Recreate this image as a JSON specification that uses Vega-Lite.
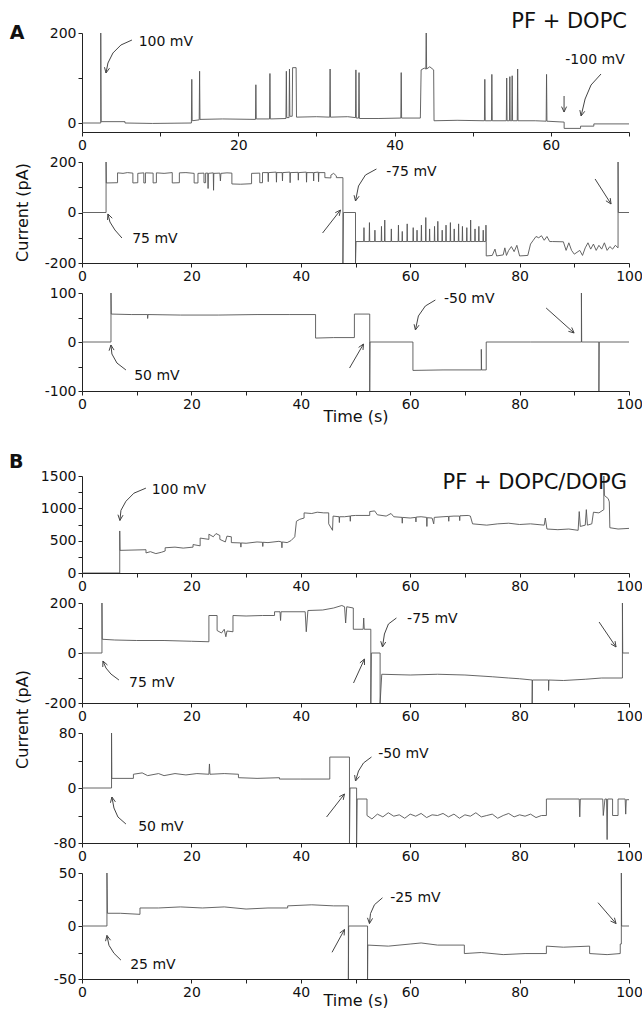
{
"$schema": "https://vega.github.io/schema/vega-lite/v6.json",
"padding": {"left": 8, "top": 11, "right": 0, "bottom": 0},
"background": "white",
"config": {
 "view": {"stroke": null},
 "axis": {"grid": false, "domainColor": "#222", "tickColor": "#222", "tickSize": 4, "labelFont": "DejaVu Sans", "labelFontSize": 14, "labelColor": "#111", "labelPadding": 2, "labelFlush": false, "labelOverlap": false, "titleFont": "DejaVu Sans", "titleFontSize": 16, "titleFontWeight": "normal", "titleColor": "#111"},
 "text": {"font": "DejaVu Sans", "fontSize": 14, "color": "#111"}
},
"datasets": {
"trace": [
{"p":1,"t":0,"v":0},{"p":1,"t":2.4,"v":0},{"p":1,"t":2.4,"v":200},{"p":1,"t":2.45,"v":3},{"p":1,"t":5.5,"v":3},{"p":1,"t":5.5,"v":0},{"p":1,"t":9,"v":-1},{"p":1,"t":14.0,"v":0},{"p":1,"t":14.05,"v":97},{"p":1,"t":14.1,"v":5},{"p":1,"t":15.0,"v":7},{"p":1,"t":15.05,"v":115},{"p":1,"t":15.1,"v":8},{"p":1,"t":18,"v":9},{"p":1,"t":22.2,"v":8},{"p":1,"t":22.25,"v":85},{"p":1,"t":22.3,"v":9},{"p":1,"t":24.0,"v":9},{"p":1,"t":24.05,"v":110},{"p":1,"t":24.1,"v":9},{"p":1,"t":26.1,"v":10},{"p":1,"t":26.15,"v":115},{"p":1,"t":26.2,"v":12},{"p":1,"t":26.5,"v":12},{"p":1,"t":26.55,"v":120},{"p":1,"t":26.6,"v":15},{"p":1,"t":26.9,"v":15},{"p":1,"t":26.95,"v":123},{"p":1,"t":27.4,"v":123},{"p":1,"t":27.45,"v":13},{"p":1,"t":30,"v":14},{"p":1,"t":31.7,"v":13},{"p":1,"t":31.75,"v":120},{"p":1,"t":31.8,"v":13},{"p":1,"t":34,"v":14},{"p":1,"t":35.0,"v":12},{"p":1,"t":35.05,"v":118},{"p":1,"t":35.1,"v":11},{"p":1,"t":35.4,"v":11},{"p":1,"t":35.45,"v":112},{"p":1,"t":35.5,"v":10},{"p":1,"t":38,"v":10},{"p":1,"t":40.8,"v":11},{"p":1,"t":40.85,"v":112},{"p":1,"t":40.9,"v":11},{"p":1,"t":43.3,"v":11},{"p":1,"t":43.4,"v":118},{"p":1,"t":43.8,"v":122},{"p":1,"t":44.0,"v":120},{"p":1,"t":44.05,"v":200},{"p":1,"t":44.1,"v":120},{"p":1,"t":44.5,"v":125},{"p":1,"t":45.0,"v":118},{"p":1,"t":45.05,"v":5},{"p":1,"t":48,"v":6},{"p":1,"t":51.5,"v":5},{"p":1,"t":51.55,"v":97},{"p":1,"t":51.6,"v":5},{"p":1,"t":52.4,"v":5},{"p":1,"t":52.45,"v":108},{"p":1,"t":52.5,"v":5},{"p":1,"t":54.3,"v":5},{"p":1,"t":54.35,"v":100},{"p":1,"t":54.4,"v":5},{"p":1,"t":54.7,"v":5},{"p":1,"t":54.75,"v":103},{"p":1,"t":54.8,"v":5},{"p":1,"t":55.0,"v":5},{"p":1,"t":55.05,"v":105},{"p":1,"t":55.1,"v":5},{"p":1,"t":55.7,"v":5},{"p":1,"t":55.75,"v":120},{"p":1,"t":55.8,"v":5},{"p":1,"t":58,"v":5},{"p":1,"t":59.4,"v":4},{"p":1,"t":59.45,"v":108},{"p":1,"t":59.5,"v":4},{"p":1,"t":61.7,"v":2},{"p":1,"t":61.7,"v":-12},{"p":1,"t":63.8,"v":-12},{"p":1,"t":63.8,"v":-7},{"p":1,"t":65.5,"v":-7},{"p":1,"t":65.5,"v":-2},{"p":1,"t":70,"v":-2},

{"p":2,"t":0,"v":0},{"p":2,"t":4.4,"v":0},{"p":2,"t":4.4,"v":200},{"p":2,"t":4.45,"v":117},{"p":2,"t":6.5,"v":118},{"p":2,"t":6.5,"v":157},{"p":2,"t":7.5,"v":155},{"p":2,"t":8.3,"v":158},{"p":2,"t":9.3,"v":156},{"p":2,"t":9.3,"v":117},{"p":2,"t":10.2,"v":118},{"p":2,"t":10.2,"v":155},{"p":2,"t":11.3,"v":157},{"p":2,"t":11.3,"v":117},{"p":2,"t":11.6,"v":117},{"p":2,"t":11.6,"v":157},{"p":2,"t":13.0,"v":156},{"p":2,"t":13.0,"v":117},{"p":2,"t":13.6,"v":118},{"p":2,"t":13.6,"v":157},{"p":2,"t":15,"v":155},{"p":2,"t":16.5,"v":158},{"p":2,"t":16.5,"v":117},{"p":2,"t":17.8,"v":118},{"p":2,"t":17.8,"v":157},{"p":2,"t":19,"v":158},{"p":2,"t":20.5,"v":155},{"p":2,"t":20.5,"v":117},{"p":2,"t":21.2,"v":117},{"p":2,"t":21.2,"v":155},{"p":2,"t":22.3,"v":156},{"p":2,"t":22.3,"v":118},{"p":2,"t":22.6,"v":118},{"p":2,"t":22.6,"v":156},{"p":2,"t":23.0,"v":156},{"p":2,"t":23.05,"v":95},{"p":2,"t":23.1,"v":155},{"p":2,"t":24.0,"v":157},{"p":2,"t":24.05,"v":88},{"p":2,"t":24.1,"v":155},{"p":2,"t":25.2,"v":156},{"p":2,"t":25.3,"v":125},{"p":2,"t":25.4,"v":155},{"p":2,"t":26.5,"v":157},{"p":2,"t":27.4,"v":156},{"p":2,"t":27.4,"v":113},{"p":2,"t":29,"v":112},{"p":2,"t":31.0,"v":114},{"p":2,"t":31.0,"v":155},{"p":2,"t":32.5,"v":156},{"p":2,"t":32.5,"v":118},{"p":2,"t":33.0,"v":118},{"p":2,"t":33.0,"v":158},{"p":2,"t":34,"v":158},{"p":2,"t":34.05,"v":122},{"p":2,"t":34.1,"v":158},{"p":2,"t":35.5,"v":160},{"p":2,"t":35.55,"v":120},{"p":2,"t":35.6,"v":158},{"p":2,"t":36.6,"v":158},{"p":2,"t":36.65,"v":125},{"p":2,"t":36.7,"v":158},{"p":2,"t":38,"v":160},{"p":2,"t":38.05,"v":118},{"p":2,"t":38.1,"v":158},{"p":2,"t":39.5,"v":159},{"p":2,"t":39.55,"v":128},{"p":2,"t":39.6,"v":158},{"p":2,"t":41,"v":160},{"p":2,"t":41.05,"v":120},{"p":2,"t":41.1,"v":158},{"p":2,"t":42.3,"v":158},{"p":2,"t":42.35,"v":125},{"p":2,"t":42.4,"v":158},{"p":2,"t":43.2,"v":160},{"p":2,"t":43.25,"v":122},{"p":2,"t":43.3,"v":158},{"p":2,"t":44.4,"v":158},{"p":2,"t":44.4,"v":138},{"p":2,"t":45.5,"v":137},{"p":2,"t":45.5,"v":148},{"p":2,"t":46,"v":155},{"p":2,"t":46.5,"v":145},{"p":2,"t":46.5,"v":138},{"p":2,"t":47.7,"v":138},{"p":2,"t":47.7,"v":-200},{"p":2,"t":47.8,"v":0},{"p":2,"t":50.0,"v":0},{"p":2,"t":50.0,"v":-200},{"p":2,"t":50.1,"v":-115},
{"p":2,"t":51.5,"v":-115},{"p":2,"t":51.55,"v":-60},{"p":2,"t":51.6,"v":-115},{"p":2,"t":52.5,"v":-115},{"p":2,"t":52.55,"v":-40},{"p":2,"t":52.6,"v":-115},{"p":2,"t":53.5,"v":-115},{"p":2,"t":53.55,"v":-70},{"p":2,"t":53.6,"v":-115},{"p":2,"t":54.7,"v":-115},{"p":2,"t":54.75,"v":-55},{"p":2,"t":54.8,"v":-115},{"p":2,"t":55.3,"v":-115},{"p":2,"t":55.35,"v":-30},{"p":2,"t":55.4,"v":-115},{"p":2,"t":56.5,"v":-115},{"p":2,"t":56.55,"v":-65},{"p":2,"t":56.6,"v":-115},{"p":2,"t":57.8,"v":-115},{"p":2,"t":57.85,"v":-50},{"p":2,"t":57.9,"v":-115},{"p":2,"t":58.5,"v":-115},{"p":2,"t":58.55,"v":-75},{"p":2,"t":58.6,"v":-115},{"p":2,"t":59.4,"v":-115},{"p":2,"t":59.45,"v":-45},{"p":2,"t":59.5,"v":-115},{"p":2,"t":60.5,"v":-115},{"p":2,"t":60.55,"v":-60},{"p":2,"t":60.6,"v":-115},{"p":2,"t":61.2,"v":-115},{"p":2,"t":61.25,"v":-70},{"p":2,"t":61.3,"v":-115},{"p":2,"t":62,"v":-115},{"p":2,"t":62.05,"v":-50},{"p":2,"t":62.1,"v":-115},{"p":2,"t":62.8,"v":-115},{"p":2,"t":62.85,"v":-20},{"p":2,"t":62.9,"v":-115},{"p":2,"t":63.5,"v":-115},{"p":2,"t":63.55,"v":-65},{"p":2,"t":63.6,"v":-115},{"p":2,"t":64.4,"v":-115},{"p":2,"t":64.45,"v":-55},{"p":2,"t":64.5,"v":-115},{"p":2,"t":65,"v":-115},{"p":2,"t":65.05,"v":-35},{"p":2,"t":65.1,"v":-115},{"p":2,"t":65.8,"v":-115},{"p":2,"t":65.85,"v":-70},{"p":2,"t":65.9,"v":-115},{"p":2,"t":66.5,"v":-115},{"p":2,"t":66.55,"v":-50},{"p":2,"t":66.6,"v":-115},{"p":2,"t":67.3,"v":-115},{"p":2,"t":67.35,"v":-40},{"p":2,"t":67.4,"v":-115},{"p":2,"t":68,"v":-115},{"p":2,"t":68.05,"v":-65},{"p":2,"t":68.1,"v":-115},{"p":2,"t":68.8,"v":-115},{"p":2,"t":68.85,"v":-45},{"p":2,"t":68.9,"v":-115},{"p":2,"t":69.5,"v":-115},{"p":2,"t":69.55,"v":-55},{"p":2,"t":69.6,"v":-115},{"p":2,"t":70.3,"v":-115},{"p":2,"t":70.35,"v":-60},{"p":2,"t":70.4,"v":-115},{"p":2,"t":71,"v":-115},{"p":2,"t":71.05,"v":-30},{"p":2,"t":71.1,"v":-115},{"p":2,"t":71.8,"v":-115},{"p":2,"t":71.85,"v":-65},{"p":2,"t":71.9,"v":-115},{"p":2,"t":72.5,"v":-115},{"p":2,"t":72.55,"v":-55},{"p":2,"t":72.6,"v":-115},{"p":2,"t":73.3,"v":-115},{"p":2,"t":73.35,"v":-70},{"p":2,"t":73.4,"v":-115},{"p":2,"t":73.8,"v":-115},{"p":2,"t":73.85,"v":-50},{"p":2,"t":73.9,"v":-115},
{"p":2,"t":73.9,"v":-172},{"p":2,"t":75,"v":-170},{"p":2,"t":75.5,"v":-145},{"p":2,"t":75.8,"v":-172},{"p":2,"t":77,"v":-168},{"p":2,"t":77.3,"v":-140},{"p":2,"t":77.6,"v":-170},{"p":2,"t":78,"v":-150},{"p":2,"t":78.5,"v":-135},{"p":2,"t":79,"v":-155},{"p":2,"t":79.5,"v":-130},{"p":2,"t":80,"v":-172},{"p":2,"t":81.5,"v":-170},{"p":2,"t":82,"v":-125},{"p":2,"t":82.5,"v":-110},{"p":2,"t":83,"v":-95},{"p":2,"t":83.5,"v":-100},{"p":2,"t":84,"v":-92},{"p":2,"t":84.5,"v":-110},{"p":2,"t":85,"v":-95},{"p":2,"t":85.5,"v":-115},{"p":2,"t":86,"v":-115},{"p":2,"t":88,"v":-116},{"p":2,"t":88.5,"v":-150},{"p":2,"t":89,"v":-120},{"p":2,"t":89.5,"v":-150},{"p":2,"t":90,"v":-165},{"p":2,"t":91,"v":-150},{"p":2,"t":91.5,"v":-170},{"p":2,"t":92,"v":-140},{"p":2,"t":92.5,"v":-120},{"p":2,"t":93,"v":-145},{"p":2,"t":93.5,"v":-125},{"p":2,"t":94,"v":-150},{"p":2,"t":94.5,"v":-130},{"p":2,"t":95,"v":-145},{"p":2,"t":95.5,"v":-120},{"p":2,"t":96,"v":-150},{"p":2,"t":96.5,"v":-135},{"p":2,"t":97,"v":-145},{"p":2,"t":97.5,"v":-130},{"p":2,"t":98,"v":-140},{"p":2,"t":98,"v":200},{"p":2,"t":98.05,"v":0},{"p":2,"t":100,"v":0},

{"p":3,"t":0,"v":0},{"p":3,"t":5.3,"v":0},{"p":3,"t":5.3,"v":100},{"p":3,"t":5.35,"v":57},{"p":3,"t":9,"v":56},{"p":3,"t":12,"v":56},{"p":3,"t":12,"v":48},{"p":3,"t":12.05,"v":56},{"p":3,"t":18,"v":55},{"p":3,"t":25,"v":55},{"p":3,"t":32,"v":56},{"p":3,"t":38,"v":56},{"p":3,"t":42.7,"v":56},{"p":3,"t":42.7,"v":8},{"p":3,"t":46,"v":9},{"p":3,"t":49.8,"v":9},{"p":3,"t":49.8,"v":57},{"p":3,"t":52.6,"v":57},{"p":3,"t":52.6,"v":-100},{"p":3,"t":52.65,"v":0},{"p":3,"t":60.5,"v":0},{"p":3,"t":60.5,"v":-58},{"p":3,"t":66,"v":-57},{"p":3,"t":73,"v":-57},{"p":3,"t":73,"v":-15},{"p":3,"t":73.05,"v":-57},{"p":3,"t":73.9,"v":-57},{"p":3,"t":73.9,"v":0},{"p":3,"t":82,"v":0},{"p":3,"t":91.3,"v":0},{"p":3,"t":91.3,"v":100},{"p":3,"t":91.35,"v":0},{"p":3,"t":94.5,"v":0},{"p":3,"t":94.5,"v":-100},{"p":3,"t":94.55,"v":0},{"p":3,"t":100,"v":0},

{"p":4,"t":0,"v":0},{"p":4,"t":6.9,"v":0},{"p":4,"t":6.9,"v":650},{"p":4,"t":6.95,"v":350},{"p":4,"t":11.7,"v":360},{"p":4,"t":11.7,"v":310},{"p":4,"t":12.5,"v":330},{"p":4,"t":13.5,"v":300},{"p":4,"t":14.5,"v":320},{"p":4,"t":15.2,"v":340},{"p":4,"t":15.2,"v":390},{"p":4,"t":17,"v":400},{"p":4,"t":18.5,"v":385},{"p":4,"t":20.3,"v":400},{"p":4,"t":20.3,"v":440},{"p":4,"t":21.6,"v":420},{"p":4,"t":21.6,"v":540},{"p":4,"t":23.2,"v":520},{"p":4,"t":23.2,"v":600},{"p":4,"t":24.0,"v":560},{"p":4,"t":24.5,"v":610},{"p":4,"t":25.2,"v":580},{"p":4,"t":25.2,"v":520},{"p":4,"t":26.2,"v":480},{"p":4,"t":26.5,"v":570},{"p":4,"t":27.3,"v":560},{"p":4,"t":27.3,"v":470},{"p":4,"t":29,"v":465},{"p":4,"t":29.05,"v":400},{"p":4,"t":29.1,"v":465},{"p":4,"t":30,"v":460},{"p":4,"t":32,"v":480},{"p":4,"t":33,"v":475},{"p":4,"t":33.05,"v":410},{"p":4,"t":33.1,"v":475},{"p":4,"t":34,"v":470},{"p":4,"t":36,"v":490},{"p":4,"t":36.5,"v":480},{"p":4,"t":36.55,"v":390},{"p":4,"t":36.6,"v":480},{"p":4,"t":37.5,"v":470},{"p":4,"t":38.2,"v":500},{"p":4,"t":38.9,"v":560},{"p":4,"t":39.2,"v":800},{"p":4,"t":39.8,"v":830},{"p":4,"t":40.6,"v":850},{"p":4,"t":40.6,"v":930},{"p":4,"t":42,"v":920},{"p":4,"t":43,"v":940},{"p":4,"t":44.2,"v":930},{"p":4,"t":45.1,"v":930},{"p":4,"t":45.1,"v":760},{"p":4,"t":45.8,"v":660},{"p":4,"t":45.9,"v":880},{"p":4,"t":47,"v":870},{"p":4,"t":47.05,"v":780},{"p":4,"t":47.1,"v":870},{"p":4,"t":48,"v":870},{"p":4,"t":49,"v":880},{"p":4,"t":49.05,"v":800},{"p":4,"t":49.1,"v":885},{"p":4,"t":50,"v":890},{"p":4,"t":52.6,"v":890},{"p":4,"t":52.6,"v":950},{"p":4,"t":53.5,"v":960},{"p":4,"t":54,"v":900},{"p":4,"t":55.6,"v":880},{"p":4,"t":56.5,"v":920},{"p":4,"t":57,"v":870},{"p":4,"t":58.5,"v":860},{"p":4,"t":58.55,"v":770},{"p":4,"t":58.6,"v":860},{"p":4,"t":60,"v":850},{"p":4,"t":61,"v":860},{"p":4,"t":61.05,"v":790},{"p":4,"t":61.1,"v":865},{"p":4,"t":62,"v":870},{"p":4,"t":63,"v":860},{"p":4,"t":63.05,"v":720},{"p":4,"t":63.1,"v":855},{"p":4,"t":64,"v":850},{"p":4,"t":64.3,"v":760},{"p":4,"t":64.4,"v":860},{"p":4,"t":66,"v":870},{"p":4,"t":67,"v":875},{"p":4,"t":67.05,"v":800},{"p":4,"t":67.1,"v":875},{"p":4,"t":68,"v":880},{"p":4,"t":69,"v":880},{"p":4,"t":69.05,"v":810},{"p":4,"t":69.1,"v":885},{"p":4,"t":70.6,"v":890},{"p":4,"t":71.0,"v":880},{"p":4,"t":71.4,"v":760},{"p":4,"t":74,"v":740},{"p":4,"t":76,"v":760},{"p":4,"t":78,"v":770},{"p":4,"t":80,"v":750},{"p":4,"t":82,"v":760},{"p":4,"t":84.5,"v":740},{"p":4,"t":84.7,"v":850},{"p":4,"t":85,"v":680},{"p":4,"t":87,"v":670},{"p":4,"t":89,"v":680},{"p":4,"t":90.7,"v":660},{"p":4,"t":90.9,"v":950},{"p":4,"t":91.1,"v":720},{"p":4,"t":92,"v":740},{"p":4,"t":92.2,"v":980},{"p":4,"t":92.4,"v":740},{"p":4,"t":93.2,"v":760},{"p":4,"t":93.5,"v":940},{"p":4,"t":94.5,"v":930},{"p":4,"t":95.4,"v":980},{"p":4,"t":95.4,"v":1500},{"p":4,"t":95.5,"v":1200},{"p":4,"t":96.2,"v":1150},{"p":4,"t":96.4,"v":1100},{"p":4,"t":96.5,"v":700},{"p":4,"t":98,"v":680},{"p":4,"t":100,"v":690},

{"p":5,"t":0,"v":0},{"p":5,"t":3.65,"v":0},{"p":5,"t":3.65,"v":200},{"p":5,"t":3.7,"v":55},{"p":5,"t":6,"v":52},{"p":5,"t":10,"v":50},{"p":5,"t":15,"v":50},{"p":5,"t":20,"v":47},{"p":5,"t":23.2,"v":45},{"p":5,"t":23.2,"v":150},{"p":5,"t":24.7,"v":150},{"p":5,"t":24.7,"v":90},{"p":5,"t":25.5,"v":80},{"p":5,"t":26,"v":95},{"p":5,"t":26.3,"v":65},{"p":5,"t":26.5,"v":88},{"p":5,"t":27.6,"v":85},{"p":5,"t":27.6,"v":150},{"p":5,"t":30,"v":148},{"p":5,"t":33,"v":150},{"p":5,"t":35.2,"v":150},{"p":5,"t":35.2,"v":165},{"p":5,"t":36.2,"v":165},{"p":5,"t":36.3,"v":130},{"p":5,"t":36.4,"v":165},{"p":5,"t":40.8,"v":165},{"p":5,"t":41,"v":85},{"p":5,"t":41.3,"v":170},{"p":5,"t":44,"v":172},{"p":5,"t":46,"v":180},{"p":5,"t":47.5,"v":190},{"p":5,"t":48,"v":185},{"p":5,"t":48.2,"v":120},{"p":5,"t":48.4,"v":185},{"p":5,"t":49.6,"v":180},{"p":5,"t":49.6,"v":95},{"p":5,"t":51.4,"v":95},{"p":5,"t":51.5,"v":140},{"p":5,"t":51.6,"v":95},{"p":5,"t":52.8,"v":95},{"p":5,"t":52.8,"v":-200},{"p":5,"t":52.9,"v":0},{"p":5,"t":54.5,"v":0},{"p":5,"t":54.5,"v":-200},{"p":5,"t":54.8,"v":-85},{"p":5,"t":60,"v":-88},{"p":5,"t":65,"v":-85},{"p":5,"t":70,"v":-88},{"p":5,"t":75,"v":-95},{"p":5,"t":78,"v":-100},{"p":5,"t":80,"v":-103},{"p":5,"t":82.3,"v":-108},{"p":5,"t":82.3,"v":-200},{"p":5,"t":82.35,"v":-108},{"p":5,"t":85.3,"v":-108},{"p":5,"t":85.3,"v":-150},{"p":5,"t":85.35,"v":-108},{"p":5,"t":88,"v":-110},{"p":5,"t":92,"v":-105},{"p":5,"t":95,"v":-100},{"p":5,"t":98.8,"v":-100},{"p":5,"t":98.8,"v":200},{"p":5,"t":98.85,"v":0},{"p":5,"t":100,"v":0},

{"p":6,"t":0,"v":0},{"p":6,"t":5.4,"v":0},{"p":6,"t":5.4,"v":80},{"p":6,"t":5.45,"v":14},{"p":6,"t":9.4,"v":14},{"p":6,"t":9.4,"v":20},{"p":6,"t":11,"v":22},{"p":6,"t":12,"v":18},{"p":6,"t":14,"v":21},{"p":6,"t":15,"v":18},{"p":6,"t":17,"v":21},{"p":6,"t":19,"v":19},{"p":6,"t":21,"v":21},{"p":6,"t":23.2,"v":20},{"p":6,"t":23.3,"v":35},{"p":6,"t":23.4,"v":20},{"p":6,"t":26,"v":21},{"p":6,"t":28.6,"v":20},{"p":6,"t":28.6,"v":15},{"p":6,"t":32,"v":14},{"p":6,"t":36.1,"v":15},{"p":6,"t":36.1,"v":13},{"p":6,"t":40,"v":13},{"p":6,"t":45.3,"v":13},{"p":6,"t":45.3,"v":45},{"p":6,"t":48.9,"v":45},{"p":6,"t":48.9,"v":-80},{"p":6,"t":49.0,"v":0},{"p":6,"t":50.2,"v":0},{"p":6,"t":50.2,"v":-80},{"p":6,"t":50.3,"v":-16},{"p":6,"t":52.1,"v":-16},{"p":6,"t":52.1,"v":-40},{"p":6,"t":53,"v":-45},{"p":6,"t":54,"v":-38},{"p":6,"t":55,"v":-42},{"p":6,"t":56,"v":-36},{"p":6,"t":57,"v":-41},{"p":6,"t":58,"v":-39},{"p":6,"t":59,"v":-44},{"p":6,"t":60,"v":-38},{"p":6,"t":61,"v":-41},{"p":6,"t":62,"v":-37},{"p":6,"t":63,"v":-43},{"p":6,"t":64,"v":-39},{"p":6,"t":65,"v":-40},{"p":6,"t":66,"v":-37},{"p":6,"t":67,"v":-42},{"p":6,"t":68,"v":-38},{"p":6,"t":69,"v":-44},{"p":6,"t":70,"v":-39},{"p":6,"t":71,"v":-41},{"p":6,"t":72,"v":-36},{"p":6,"t":73,"v":-42},{"p":6,"t":74,"v":-40},{"p":6,"t":75,"v":-38},{"p":6,"t":76,"v":-44},{"p":6,"t":77,"v":-40},{"p":6,"t":78,"v":-37},{"p":6,"t":79,"v":-42},{"p":6,"t":80,"v":-39},{"p":6,"t":81,"v":-41},{"p":6,"t":82,"v":-38},{"p":6,"t":83,"v":-43},{"p":6,"t":84,"v":-40},{"p":6,"t":84.9,"v":-40},{"p":6,"t":84.9,"v":-16},{"p":6,"t":90.9,"v":-16},{"p":6,"t":91,"v":-42},{"p":6,"t":91.1,"v":-16},{"p":6,"t":95.2,"v":-16},{"p":6,"t":95.3,"v":-40},{"p":6,"t":95.6,"v":-16},{"p":6,"t":95.9,"v":-16},{"p":6,"t":96,"v":-75},{"p":6,"t":96.1,"v":-16},{"p":6,"t":97,"v":-16},{"p":6,"t":97,"v":-40},{"p":6,"t":98,"v":-40},{"p":6,"t":98,"v":-16},{"p":6,"t":99.3,"v":-16},{"p":6,"t":99.4,"v":-38},{"p":6,"t":99.5,"v":-17},{"p":6,"t":100,"v":-17},

{"p":7,"t":0,"v":0},{"p":7,"t":4.56,"v":0},{"p":7,"t":4.56,"v":50},{"p":7,"t":4.6,"v":35},{"p":7,"t":4.65,"v":12},{"p":7,"t":7,"v":12},{"p":7,"t":10.6,"v":11},{"p":7,"t":10.6,"v":17},{"p":7,"t":14,"v":17},{"p":7,"t":18,"v":18},{"p":7,"t":22,"v":17},{"p":7,"t":26,"v":18},{"p":7,"t":30,"v":16},{"p":7,"t":34,"v":17},{"p":7,"t":37.6,"v":17},{"p":7,"t":37.6,"v":19},{"p":7,"t":42,"v":20},{"p":7,"t":46,"v":19},{"p":7,"t":48.7,"v":19},{"p":7,"t":48.7,"v":-50},{"p":7,"t":48.75,"v":0},{"p":7,"t":52.2,"v":0},{"p":7,"t":52.2,"v":-50},{"p":7,"t":52.25,"v":-18},{"p":7,"t":56,"v":-19},{"p":7,"t":60,"v":-17},{"p":7,"t":62,"v":-16},{"p":7,"t":65,"v":-18},{"p":7,"t":69.9,"v":-18},{"p":7,"t":69.9,"v":-26},{"p":7,"t":73,"v":-25},{"p":7,"t":77,"v":-27},{"p":7,"t":81,"v":-26},{"p":7,"t":84.9,"v":-26},{"p":7,"t":84.9,"v":-19},{"p":7,"t":88,"v":-20},{"p":7,"t":92.8,"v":-19},{"p":7,"t":92.8,"v":-26},{"p":7,"t":96,"v":-27},{"p":7,"t":98.4,"v":-26},{"p":7,"t":98.4,"v":-17},{"p":7,"t":98.6,"v":-17},{"p":7,"t":98.6,"v":50},{"p":7,"t":98.65,"v":0},{"p":7,"t":100,"v":0}
],
"arrows": [
{"p":1,"a":"1","t":6.39,"v":184.4},{"p":1,"a":"1","t":4.98,"v":173.3},{"p":1,"a":"1","t":3.96,"v":155.6},{"p":1,"a":"1","t":3.32,"v":133.3},{"p":1,"a":"1","t":3.07,"v":111.1},
{"p":1,"a":"1h","t":3.52,"v":121.8},{"p":1,"a":"1h","t":3.07,"v":111.1},{"p":1,"a":"1h","t":2.88,"v":124.0},
{"p":1,"a":"2","t":66.42,"v":108.9},{"p":1,"a":"2","t":65.14,"v":84.4},{"p":1,"a":"2","t":64.38,"v":53.3},{"p":1,"a":"2","t":63.87,"v":15.6},
{"p":1,"a":"2h","t":64.34,"v":26.0},{"p":1,"a":"2h","t":63.87,"v":15.6},{"p":1,"a":"2h","t":63.71,"v":28.7},
{"p":1,"a":"3","t":61.69,"v":60},{"p":1,"a":"3","t":61.69,"v":24.4},
{"p":1,"a":"3h","t":62.01,"v":36.4},{"p":1,"a":"3h","t":61.69,"v":24.4},{"p":1,"a":"3h","t":61.37,"v":36.4},
{"p":2,"a":"4","t":7.30,"v":-101.0},{"p":2,"a":"4","t":6.02,"v":-69.3},{"p":2,"a":"4","t":5.11,"v":-37.6},{"p":2,"a":"4","t":4.74,"v":-5.9},
{"p":2,"a":"4h","t":4.67,"v":-29.7},{"p":2,"a":"4h","t":4.74,"v":-5.9},{"p":2,"a":"4h","t":5.53,"v":-22.6},
{"p":2,"a":"5","t":53.83,"v":172.3},{"p":2,"a":"5","t":51.82,"v":148.5},{"p":2,"a":"5","t":50.55,"v":105.0},{"p":2,"a":"5","t":50.0,"v":45.6},
{"p":2,"a":"5h","t":50.66,"v":64.6},{"p":2,"a":"5h","t":50.0,"v":45.6},{"p":2,"a":"5h","t":49.74,"v":68.5},
{"p":2,"a":"6","t":43.98,"v":-81.2},{"p":2,"a":"6","t":47.26,"v":9.9},
{"p":2,"a":"6h","t":46.30,"v":-0.8},{"p":2,"a":"6h","t":47.26,"v":9.9},{"p":2,"a":"6h","t":47.03,"v":-13.4},
{"p":2,"a":"7","t":93.80,"v":132.7},{"p":2,"a":"7","t":96.72,"v":33.7},
{"p":2,"a":"7h","t":96.57,"v":57.0},{"p":2,"a":"7h","t":96.72,"v":33.7},{"p":2,"a":"7h","t":95.78,"v":46.4},
{"p":3,"a":"8","t":8.03,"v":-57.1},{"p":3,"a":"8","t":6.39,"v":-42.9},{"p":3,"a":"8","t":5.47,"v":-24.5},{"p":3,"a":"8","t":5.29,"v":-6.1},
{"p":3,"a":"8h","t":4.95,"v":-17.8},{"p":3,"a":"8h","t":5.29,"v":-6.1},{"p":3,"a":"8h","t":5.86,"v":-16.5},
{"p":3,"a":"9","t":64.60,"v":85.7},{"p":3,"a":"9","t":62.77,"v":73.5},{"p":3,"a":"9","t":61.50,"v":53.1},{"p":3,"a":"9","t":60.95,"v":24.5},
{"p":3,"a":"9h","t":61.61,"v":34.3},{"p":3,"a":"9h","t":60.95,"v":24.5},{"p":3,"a":"9h","t":60.71,"v":36.3},
{"p":3,"a":"10","t":48.91,"v":-53.1},{"p":3,"a":"10","t":51.46,"v":-4.1},
{"p":3,"a":"10h","t":50.57,"v":-11.0},{"p":3,"a":"10h","t":51.46,"v":-4.1},{"p":3,"a":"10h","t":51.37,"v":-16.3},
{"p":3,"a":"11","t":84.85,"v":69.4},{"p":3,"a":"11","t":89.96,"v":18.4},
{"p":3,"a":"11h","t":89.53,"v":29.6},{"p":3,"a":"11h","t":89.96,"v":18.4},{"p":3,"a":"11h","t":88.92,"v":21.8},
{"p":4,"a":"12","t":11.68,"v":1312.5},{"p":4,"a":"12","t":9.49,"v":1234.4},{"p":4,"a":"12","t":8.03,"v":1109.4},{"p":4,"a":"12","t":7.12,"v":968.8},{"p":4,"a":"12","t":6.93,"v":812.5},
{"p":4,"a":"12h","t":7.50,"v":893.8},{"p":4,"a":"12h","t":6.93,"v":812.5},{"p":4,"a":"12h","t":6.57,"v":901.6},
{"p":5,"a":"13","t":6.75,"v":-108},{"p":5,"a":"13","t":5.29,"v":-84},{"p":5,"a":"13","t":4.38,"v":-60},{"p":5,"a":"13","t":3.83,"v":-32},
{"p":5,"a":"13h","t":3.80,"v":-56},{"p":5,"a":"13h","t":3.83,"v":-32},{"p":5,"a":"13h","t":4.65,"v":-48},
{"p":5,"a":"14","t":57.48,"v":140},{"p":5,"a":"14","t":56.02,"v":116},{"p":5,"a":"14","t":55.29,"v":76},{"p":5,"a":"14","t":54.93,"v":24},
{"p":5,"a":"14h","t":55.53,"v":44},{"p":5,"a":"14h","t":54.93,"v":24},{"p":5,"a":"14h","t":54.62,"v":47.2},
{"p":5,"a":"15","t":49.64,"v":-120},{"p":5,"a":"15","t":51.64,"v":-24},
{"p":5,"a":"15h","t":50.80,"v":-39.6},{"p":5,"a":"15h","t":51.64,"v":-24},{"p":5,"a":"15h","t":51.64,"v":-48},
{"p":5,"a":"16","t":94.53,"v":124},{"p":5,"a":"16","t":97.63,"v":24},
{"p":5,"a":"16h","t":97.45,"v":47.6},{"p":5,"a":"16h","t":97.63,"v":24},{"p":5,"a":"16h","t":96.68,"v":36.4},
{"p":6,"a":"17","t":8.03,"v":-52.4},{"p":6,"a":"17","t":6.57,"v":-42.2},{"p":6,"a":"17","t":5.84,"v":-29.1},{"p":6,"a":"17","t":5.47,"v":-13.1},
{"p":6,"a":"17h","t":5.20,"v":-21.5},{"p":6,"a":"17h","t":5.47,"v":-13.1},{"p":6,"a":"17h","t":6.11,"v":-20.2},
{"p":6,"a":"18","t":52.92,"v":45.1},{"p":6,"a":"18","t":51.46,"v":36.4},{"p":6,"a":"18","t":50.55,"v":24.7},{"p":6,"a":"18","t":50.0,"v":10.2},
{"p":6,"a":"18h","t":50.73,"v":16.7},{"p":6,"a":"18h","t":50.0,"v":10.2},{"p":6,"a":"18h","t":49.84,"v":18.8},
{"p":6,"a":"19","t":44.71,"v":-42.2},{"p":6,"a":"19","t":47.99,"v":-8.7},
{"p":6,"a":"19h","t":47.03,"v":-12.7},{"p":6,"a":"19h","t":47.99,"v":-8.7},{"p":6,"a":"19h","t":47.76,"v":-17.3},
{"p":7,"a":"20","t":7.12,"v":-32.2},{"p":7,"a":"20","t":5.84,"v":-25.7},{"p":7,"a":"20","t":4.93,"v":-18.2},{"p":7,"a":"20","t":4.56,"v":-8.9},
{"p":7,"a":"20h","t":4.31,"v":-14.3},{"p":7,"a":"20h","t":4.56,"v":-8.9},{"p":7,"a":"20h","t":5.22,"v":-13.4},
{"p":7,"a":"21","t":54.93,"v":26.6},{"p":7,"a":"21","t":53.47,"v":20.1},{"p":7,"a":"21","t":52.74,"v":11.7},{"p":7,"a":"21","t":52.55,"v":2.3},
{"p":7,"a":"21h","t":53.12,"v":7.2},{"p":7,"a":"21h","t":52.55,"v":2.3},{"p":7,"a":"21h","t":52.19,"v":7.7},
{"p":7,"a":"22","t":45.71,"v":-24.8},{"p":7,"a":"22","t":47.99,"v":-3.3},
{"p":7,"a":"22h","t":47.12,"v":-6.6},{"p":7,"a":"22h","t":47.99,"v":-3.3},{"p":7,"a":"22h","t":47.92,"v":-8.9},
{"p":7,"a":"23","t":94.34,"v":22.0},{"p":7,"a":"23","t":97.63,"v":2.3},
{"p":7,"a":"23h","t":97.34,"v":7.8},{"p":7,"a":"23h","t":97.63,"v":2.3},{"p":7,"a":"23h","t":96.62,"v":4.7}
],
"labels": [
{"p":1,"t":10.73,"v":180,"txt":"100 mV","kind":"mv"},{"p":1,"t":65.65,"v":140,"txt":"-100 mV","kind":"mv"},{"p":1,"t":69.74,"v":224.4,"txt":"PF + DOPC","kind":"head"},{"p":1,"t":-8.3,"v":200,"txt":"A","kind":"letter"},
{"p":2,"t":13.32,"v":-104.9,"txt":"75 mV","kind":"mv"},{"p":2,"t":60.22,"v":160.4,"txt":"-75 mV","kind":"mv"},
{"p":3,"t":13.69,"v":-69.4,"txt":"50 mV","kind":"mv"},{"p":3,"t":70.8,"v":87.8,"txt":"-50 mV","kind":"mv"},
{"p":4,"t":17.7,"v":1281,"txt":"100 mV","kind":"mv"},{"p":4,"t":99.64,"v":1390.6,"txt":"PF + DOPC/DOPG","kind":"head"},{"p":4,"t":-12.04,"v":1718.8,"txt":"B","kind":"letter"},
{"p":5,"t":12.77,"v":-120,"txt":"75 mV","kind":"mv"},{"p":5,"t":64.05,"v":136,"txt":"-75 mV","kind":"mv"},
{"p":6,"t":14.42,"v":-56.7,"txt":"50 mV","kind":"mv"},{"p":6,"t":58.76,"v":49.5,"txt":"-50 mV","kind":"mv"},
{"p":7,"t":12.96,"v":-36.9,"txt":"25 mV","kind":"mv"},{"p":7,"t":60.95,"v":26.6,"txt":"-25 mV","kind":"mv"}
]
},
"spacing": 30,
"bounds": "flush",
"vconcat": [
  {
   "width": 547, "height": 99,
   "encoding": {
    "x": {"field": "t", "type": "quantitative", "scale": {"domain": [0, 70], "nice": false, "zero": false}, "axis": {"values": [0,10,20,30,40,50,60,70], "labelExpr": "datum.value % 20 == 0 ? '' + datum.value : ''", "title": null}},
    "y": {"field": "v", "type": "quantitative", "scale": {"domain": [-20, 200], "nice": false, "zero": false}, "axis": {"values": [0,100,200], "labelExpr": "datum.value % 200 == 0 ? '' + datum.value : ''", "title": null}}
   },
   "layer": [
    {"data": {"name": "trace"}, "transform": [{"filter": "datum.p == 1"}], "mark": {"type": "line", "color": "#555", "strokeWidth": 0.9, "clip": true}, "encoding": {"order": {"value": null}}},
    {"data": {"name": "arrows"}, "transform": [{"filter": "datum.p == 1"}], "mark": {"type": "line", "color": "#444", "strokeWidth": 1}, "encoding": {"detail": {"field": "a"}, "order": {"value": null}}},
    {"data": {"name": "labels"}, "transform": [{"filter": "datum.p == 1 && datum.kind == 'mv'"}], "mark": {"type": "text", "align": "center", "baseline": "middle"}, "encoding": {"text": {"field": "txt"}}},
    {"data": {"name": "labels"}, "transform": [{"filter": "datum.p == 1 && datum.kind == 'head'"}], "mark": {"type": "text", "align": "right", "baseline": "middle", "fontSize": 21}, "encoding": {"text": {"field": "txt"}}},
    {"data": {"name": "labels"}, "transform": [{"filter": "datum.p == 1 && datum.kind == 'letter'"}], "mark": {"type": "text", "align": "center", "baseline": "middle", "fontSize": 19, "fontWeight": "bold"}, "encoding": {"text": {"field": "txt"}}}
   ]
  },
  {
   "width": 547, "height": 101,
   "encoding": {
    "x": {"field": "t", "type": "quantitative", "scale": {"domain": [0, 100], "nice": false, "zero": false}, "axis": {"values": [0,10,20,30,40,50,60,70,80,90,100], "labelExpr": "datum.value % 20 == 0 ? '' + datum.value : ''", "title": null}},
    "y": {"field": "v", "type": "quantitative", "scale": {"domain": [-200, 200], "nice": false, "zero": false}, "axis": {"values": [-200,-100,0,100,200], "labelExpr": "datum.value % 200 == 0 ? '' + datum.value : ''", "title": "Current (pA)", "titleX": -60, "titleY": 50, "titleAlign": "center", "titleBaseline": "middle"}}
   },
   "layer": [
    {"data": {"name": "trace"}, "transform": [{"filter": "datum.p == 2"}], "mark": {"type": "line", "color": "#555", "strokeWidth": 0.9, "clip": true}, "encoding": {"order": {"value": null}}},
    {"data": {"name": "arrows"}, "transform": [{"filter": "datum.p == 2"}], "mark": {"type": "line", "color": "#444", "strokeWidth": 1}, "encoding": {"detail": {"field": "a"}, "order": {"value": null}}},
    {"data": {"name": "labels"}, "transform": [{"filter": "datum.p == 2 && datum.kind == 'mv'"}], "mark": {"type": "text", "align": "center", "baseline": "middle"}, "encoding": {"text": {"field": "txt"}}}
   ]
  },
  {
   "width": 547, "height": 98,
   "encoding": {
    "x": {"field": "t", "type": "quantitative", "scale": {"domain": [0, 100], "nice": false, "zero": false}, "axis": {"values": [0,10,20,30,40,50,60,70,80,90,100], "labelExpr": "datum.value % 20 == 0 ? '' + datum.value : ''", "title": "Time (s)", "titleY": 25, "titleBaseline": "middle"}},
    "y": {"field": "v", "type": "quantitative", "scale": {"domain": [-100, 100], "nice": false, "zero": false}, "axis": {"values": [-100,-50,0,50,100], "labelExpr": "datum.value % 100 == 0 ? '' + datum.value : ''", "title": null}}
   },
   "layer": [
    {"data": {"name": "trace"}, "transform": [{"filter": "datum.p == 3"}], "mark": {"type": "line", "color": "#555", "strokeWidth": 0.9, "clip": true}, "encoding": {"order": {"value": null}}},
    {"data": {"name": "arrows"}, "transform": [{"filter": "datum.p == 3"}], "mark": {"type": "line", "color": "#444", "strokeWidth": 1}, "encoding": {"detail": {"field": "a"}, "order": {"value": null}}},
    {"data": {"name": "labels"}, "transform": [{"filter": "datum.p == 3 && datum.kind == 'mv'"}], "mark": {"type": "text", "align": "center", "baseline": "middle"}, "encoding": {"text": {"field": "txt"}}}
   ]
  },
  {
   "width": 547, "height": 25,
   "data": {"values": []},
   "mark": {"type": "point"},
   "encoding": {}
  },
  {
   "width": 547, "height": 97,
   "encoding": {
    "x": {"field": "t", "type": "quantitative", "scale": {"domain": [0, 100], "nice": false, "zero": false}, "axis": {"values": [0,10,20,30,40,50,60,70,80,90,100], "labelExpr": "datum.value % 20 == 0 ? '' + datum.value : ''", "title": null}},
    "y": {"field": "v", "type": "quantitative", "scale": {"domain": [0, 1500], "nice": false, "zero": false}, "axis": {"values": [0,250,500,750,1000,1250,1500], "labelExpr": "datum.value % 500 == 0 ? '' + datum.value : ''", "title": null}}
   },
   "layer": [
    {"data": {"name": "trace"}, "transform": [{"filter": "datum.p == 4"}], "mark": {"type": "line", "color": "#555", "strokeWidth": 0.9, "clip": true}, "encoding": {"order": {"value": null}}},
    {"data": {"name": "arrows"}, "transform": [{"filter": "datum.p == 4"}], "mark": {"type": "line", "color": "#444", "strokeWidth": 1}, "encoding": {"detail": {"field": "a"}, "order": {"value": null}}},
    {"data": {"name": "labels"}, "transform": [{"filter": "datum.p == 4 && datum.kind == 'mv'"}], "mark": {"type": "text", "align": "center", "baseline": "middle"}, "encoding": {"text": {"field": "txt"}}},
    {"data": {"name": "labels"}, "transform": [{"filter": "datum.p == 4 && datum.kind == 'head'"}], "mark": {"type": "text", "align": "right", "baseline": "middle", "fontSize": 21}, "encoding": {"text": {"field": "txt"}}},
    {"data": {"name": "labels"}, "transform": [{"filter": "datum.p == 4 && datum.kind == 'letter'"}], "mark": {"type": "text", "align": "center", "baseline": "middle", "fontSize": 19, "fontWeight": "bold"}, "encoding": {"text": {"field": "txt"}}}
   ]
  },
  {
   "width": 547, "height": 100,
   "encoding": {
    "x": {"field": "t", "type": "quantitative", "scale": {"domain": [0, 100], "nice": false, "zero": false}, "axis": {"values": [0,10,20,30,40,50,60,70,80,90,100], "labelExpr": "datum.value % 20 == 0 ? '' + datum.value : ''", "title": null}},
    "y": {"field": "v", "type": "quantitative", "scale": {"domain": [-200, 200], "nice": false, "zero": false}, "axis": {"values": [-200,-100,0,100,200], "labelExpr": "datum.value % 200 == 0 ? '' + datum.value : ''", "title": "Current (pA)", "titleX": -60, "titleY": 116, "titleAlign": "center", "titleBaseline": "middle"}}
   },
   "layer": [
    {"data": {"name": "trace"}, "transform": [{"filter": "datum.p == 5"}], "mark": {"type": "line", "color": "#555", "strokeWidth": 0.9, "clip": true}, "encoding": {"order": {"value": null}}},
    {"data": {"name": "arrows"}, "transform": [{"filter": "datum.p == 5"}], "mark": {"type": "line", "color": "#444", "strokeWidth": 1}, "encoding": {"detail": {"field": "a"}, "order": {"value": null}}},
    {"data": {"name": "labels"}, "transform": [{"filter": "datum.p == 5 && datum.kind == 'mv'"}], "mark": {"type": "text", "align": "center", "baseline": "middle"}, "encoding": {"text": {"field": "txt"}}}
   ]
  },
  {
   "width": 547, "height": 110,
   "encoding": {
    "x": {"field": "t", "type": "quantitative", "scale": {"domain": [0, 100], "nice": false, "zero": false}, "axis": {"values": [0,10,20,30,40,50,60,70,80,90,100], "labelExpr": "datum.value % 20 == 0 ? '' + datum.value : ''", "title": null}},
    "y": {"field": "v", "type": "quantitative", "scale": {"domain": [-80, 80], "nice": false, "zero": false}, "axis": {"values": [-80,-40,0,40,80], "labelExpr": "datum.value % 80 == 0 ? '' + datum.value : ''", "title": null}}
   },
   "layer": [
    {"data": {"name": "trace"}, "transform": [{"filter": "datum.p == 6"}], "mark": {"type": "line", "color": "#555", "strokeWidth": 0.9, "clip": true}, "encoding": {"order": {"value": null}}},
    {"data": {"name": "arrows"}, "transform": [{"filter": "datum.p == 6"}], "mark": {"type": "line", "color": "#444", "strokeWidth": 1}, "encoding": {"detail": {"field": "a"}, "order": {"value": null}}},
    {"data": {"name": "labels"}, "transform": [{"filter": "datum.p == 6 && datum.kind == 'mv'"}], "mark": {"type": "text", "align": "center", "baseline": "middle"}, "encoding": {"text": {"field": "txt"}}}
   ]
  },
  {
   "width": 547, "height": 106,
   "encoding": {
    "x": {"field": "t", "type": "quantitative", "scale": {"domain": [0, 100], "nice": false, "zero": false}, "axis": {"values": [0,10,20,30,40,50,60,70,80,90,100], "labelExpr": "datum.value % 20 == 0 ? '' + datum.value : ''", "title": "Time (s)", "titleY": 21, "titleBaseline": "middle"}},
    "y": {"field": "v", "type": "quantitative", "scale": {"domain": [-50, 50], "nice": false, "zero": false}, "axis": {"values": [-50,-25,0,25,50], "labelExpr": "datum.value % 50 == 0 ? '' + datum.value : ''", "title": null}}
   },
   "layer": [
    {"data": {"name": "trace"}, "transform": [{"filter": "datum.p == 7"}], "mark": {"type": "line", "color": "#555", "strokeWidth": 0.9, "clip": true}, "encoding": {"order": {"value": null}}},
    {"data": {"name": "arrows"}, "transform": [{"filter": "datum.p == 7"}], "mark": {"type": "line", "color": "#444", "strokeWidth": 1}, "encoding": {"detail": {"field": "a"}, "order": {"value": null}}},
    {"data": {"name": "labels"}, "transform": [{"filter": "datum.p == 7 && datum.kind == 'mv'"}], "mark": {"type": "text", "align": "center", "baseline": "middle"}, "encoding": {"text": {"field": "txt"}}}
   ]
  }
]
}
